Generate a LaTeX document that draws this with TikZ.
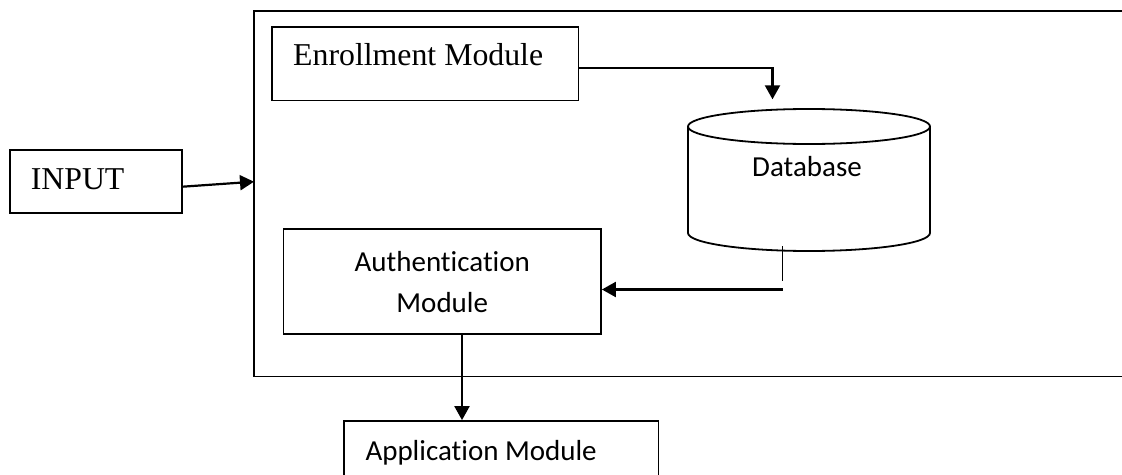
\documentclass[tikz,border=0pt]{standalone}
\usepackage{fontspec}
\newfontfamily\serfont{Liberation Serif}
\newfontfamily\calfont[Ligatures=NoCommon]{Carlito}
\usetikzlibrary{arrows.meta}
\begin{document}
\begin{tikzpicture}[x=1pt,y=-1pt,
  ln/.style={line width=1.8pt},
  thinln/.style={line width=1.1pt},
  box/.style={draw, line width=1.8pt, inner sep=0pt},
  arr/.style={line width=2.2pt, -{Triangle[length=14pt,width=15pt]}},
  sertext/.style={font=\serfont\fontsize{31.8}{38}\selectfont, inner sep=0pt},
  caltext/.style={font=\calfont\fontsize{29}{41}\selectfont, inner sep=0pt}]
\clip (0,0) rectangle (1122,474);
% outer system box (open to the right)
\draw[ln] (1130,11) -- (254,11) -- (254,376.5) -- (1130,376.5);
\coordinate (sysin) at (254,181.7);
% INPUT
\node[box, minimum width=172.6pt, minimum height=63.3pt] (input) at (95.9,181.65) {};
\node[sertext, anchor=base west] (inputtxt) at (30.6,189.3) {INPUT};
\draw[arr] ([yshift=-5pt]input.east) -- (sysin);
% Enrollment module
\node[box, minimum width=306.5pt, minimum height=73.5pt] (enr) at (425.25,63.75) {};
\node[sertext, anchor=base west] (enrtxt) at (293,65.7) {Enrollment Module};
% Database cylinder
\draw[ln] (809,126.5) ellipse [x radius=121pt, y radius=17.5pt];
\draw[ln] (688,126.5) -- (688,233) arc[start angle=180, end angle=360, x radius=121pt, y radius=18pt] -- (930,126.5);
\node[caltext, anchor=base] (db) at (807,176.7) {Database};
\coordinate (dbin) at (772.5,99.3);
\draw[arr] ([yshift=-4pt]enr.east) -| (dbin);
% Authentication module
\node[box, minimum width=317.5pt, minimum height=104.7pt, caltext, align=center] (auth) at (442.25,281.65) {Authentication\\Module};
\coordinate (dbtick1) at (782.7,246);
\coordinate (dbtick2) at (782.7,281);
\draw[thinln] (dbtick1) -- (dbtick2);
\coordinate (dbout) at (782.5,289.5);
\draw[arr] (dbout) -- (dbout -| auth.east);
% Application module
\node[box, minimum width=314.5pt, minimum height=79pt] (app) at (501.25,460.5) {};
\node[caltext, anchor=base west] (apptxt) at (365.3,460) {Application Module};
\draw[arr] ([xshift=19.75pt]auth.south) -- ([xshift=19.75pt]auth.south |- app.north);
\end{tikzpicture}
\end{document}
